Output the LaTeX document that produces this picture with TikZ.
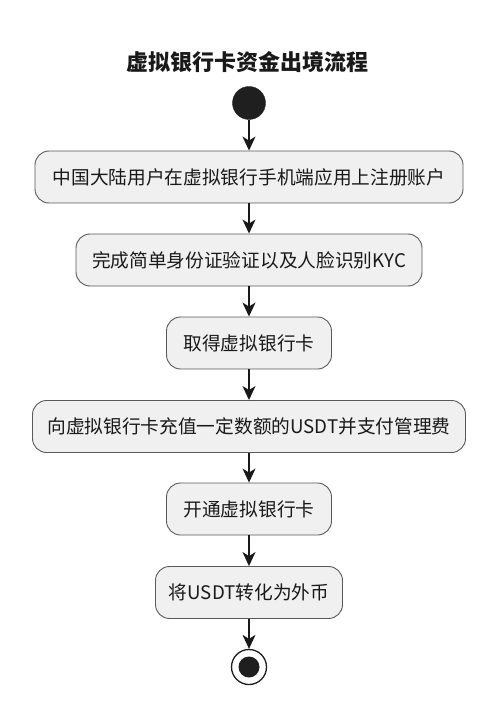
\documentclass[tikz,border=0pt]{standalone}
\usepackage{fontspec}
\setmainfont{Noto Sans CJK SC}
\usetikzlibrary{arrows.meta}
\begin{document}
\begin{tikzpicture}[x=1pt,y=-1pt,
  act/.style={draw=black!65, line width=0.9pt, fill=black!6, rounded corners=14pt,
    minimum height=52pt, inner sep=0pt, font=\fontsize{18.7}{22}\selectfont, text=black!90},
  flow/.style={line width=1.4pt, draw=black!90, -{Stealth[length=14pt,width=13pt,inset=4pt]}},
  startdot/.style={circle, fill=black!88, draw=black!88, minimum size=33pt, inner sep=0pt},
  endring/.style={circle, draw=black!88, line width=1.3pt, fill=white, minimum size=35pt, inner sep=0pt},
  enddot/.style={circle, fill=black!88, minimum size=21pt, inner sep=0pt}]
\useasboundingbox (0,0) rectangle (500,719);
\node[font=\fontsize{22}{26}\selectfont\bfseries, text=black!90] (title) at (247,62) {虚拟银行卡资金出境流程};
\node[startdot] (start) at (249,103) {};
\node[act, minimum width=428pt] (a1) at (249,177) {中国大陆用户在虚拟银行手机端应用上注册账户};
\node[act, minimum width=346pt] (a2) at (249,260) {完成简单身份证验证以及人脸识别KYC};
\node[act, minimum width=165pt] (a3) at (249,343) {取得虚拟银行卡};
\node[act, minimum width=433pt] (a4) at (249,426.5) {向虚拟银行卡充值一定数额的USDT并支付管理费};
\node[act, minimum width=165pt] (a5) at (249,509) {开通虚拟银行卡};
\node[act, minimum width=187pt] (a6) at (249,592.5) {将USDT转化为外币};
\node[endring] (endo) at (249,667) {};
\node[enddot] (endi) at (249,667) {};
\draw[flow] (start) -- (a1);
\draw[flow] (a1) -- (a2);
\draw[flow] (a2) -- (a3);
\draw[flow] (a3) -- (a4);
\draw[flow] (a4) -- (a5);
\draw[flow] (a5) -- (a6);
\draw[flow] (a6) -- (endo);
\end{tikzpicture}
\end{document}
